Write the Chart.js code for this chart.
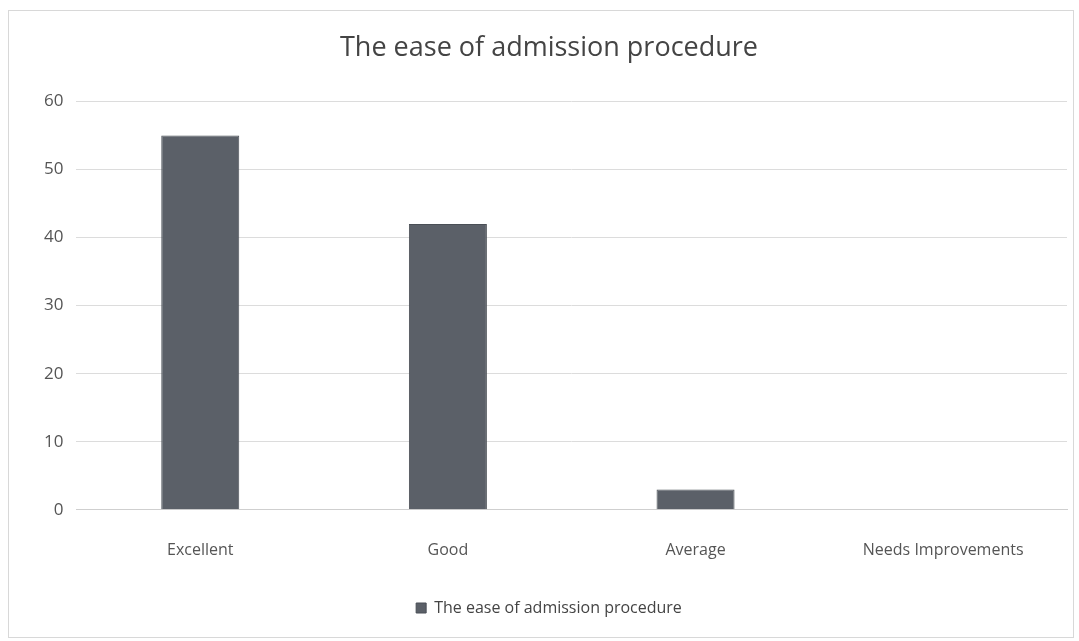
<!DOCTYPE html>
<html>
<head>
<meta charset="utf-8">
<script src="https://cdn.jsdelivr.net/npm/chart.js@4/dist/chart.umd.min.js"></script>
<style>
  html, body { margin: 0; padding: 0; background: #fff; }
  #wrap { position: absolute; left: 8px; top: 10px; width: 1066px; height: 628px; border: 1px solid #d8d8d8; box-sizing: border-box; }
</style>
</head>
<body>
<div id="wrap"><canvas id="grafico"></canvas></div>
<script>
const categorias = ['Excellent', 'Good', 'Average', 'Needs Improvements'];
const valores = [55, 42, 3, 0];
const nomeSerie = 'The ease of admission procedure';

const ctx = document.getElementById('grafico').getContext('2d');
Chart.defaults.font.family = "'Open Sans', 'Noto Sans', sans-serif";
Chart.defaults.color = '#555';

new Chart(ctx, {
    type: 'bar',
    data: {
        labels: categorias,
        datasets: [{
            label: nomeSerie,
            data: valores,
            backgroundColor: '#5b6068',
            borderColor: '#4a4f56',
            borderWidth: 1,
            barPercentage: 0.315,
            categoryPercentage: 1
        }]
    },
    options: {
        responsive: true,
        maintainAspectRatio: false,
        animation: false,
        layout: { padding: { left: 22, right: 6, top: 12, bottom: 11 } },
        plugins: {
            title: {
                display: true,
                text: nomeSerie,
                color: '#444',
                font: { size: 27, weight: 'normal' },
                padding: { top: 9, bottom: 37 }
            },
            legend: {
                position: 'bottom',
                labels: { boxWidth: 10, boxHeight: 10, color: '#444', font: { size: 16 }, padding: 9 }
            },
            tooltip: { enabled: false }
        },
        scales: {
            y: {
                min: 0, max: 60,
                ticks: { stepSize: 10, font: { size: 17 }, padding: 13, color: '#555' },
                grid: { color: '#dcdcdc', drawTicks: false },
                border: { display: false }
            },
            x: {
                ticks: { font: { size: 16 }, padding: 31, color: '#555' },
                grid: { display: false, drawTicks: false },
                border: { color: '#cfcfcf' }
            }
        }
    }
});
</script>
</body>
</html>
